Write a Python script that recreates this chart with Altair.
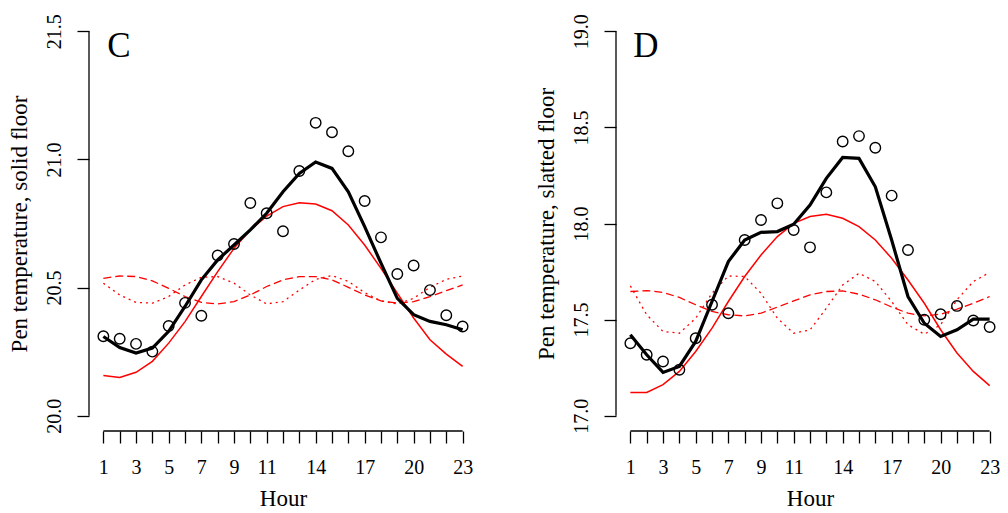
import altair as alt
import pandas as pd

hours = list(range(1, 24))
label_hours = [1, 3, 5, 7, 9, 11, 14, 17, 20, 23]

# Panel C: solid floor
c_obs = [20.31, 20.30, 20.28, 20.25, 20.35, 20.44, 20.39, 20.625, 20.67, 20.83, 20.79, 20.72,
         20.955, 21.143, 21.106, 21.032, 20.838, 20.696, 20.553, 20.586, 20.49, 20.392, 20.348]
c_fit = [20.309, 20.266, 20.244, 20.264, 20.329, 20.426, 20.53, 20.608, 20.666, 20.725, 20.79, 20.874,
         20.945, 20.99, 20.965, 20.874, 20.738, 20.595, 20.458, 20.394, 20.368, 20.355, 20.335]
c_trend = [20.157, 20.149, 20.169, 20.212, 20.283, 20.367, 20.465, 20.562, 20.653, 20.725, 20.779, 20.816,
           20.831, 20.826, 20.80, 20.744, 20.666, 20.575, 20.478, 20.381, 20.296, 20.240, 20.192]
c_h12 = [20.536, 20.545, 20.543, 20.526, 20.497, 20.465, 20.442, 20.436, 20.445, 20.471, 20.504, 20.53,
         20.543, 20.543, 20.53, 20.501, 20.471, 20.448, 20.439, 20.445, 20.465, 20.488, 20.51]
c_h8 = [20.517, 20.471, 20.442, 20.439, 20.465, 20.51, 20.54, 20.543, 20.517, 20.471, 20.436, 20.445,
        20.49, 20.532, 20.547, 20.524, 20.48, 20.448, 20.436, 20.458, 20.501, 20.532, 20.545]
c_ticks = [20.0, 20.5, 21.0, 21.5]

# Panel D: slatted floor
d_obs = [17.377, 17.317, 17.282, 17.239, 17.403, 17.577, 17.533, 17.914, 18.018, 18.105, 17.966, 17.876,
         18.162, 18.427, 18.455, 18.394, 18.145, 17.862, 17.499, 17.528, 17.571, 17.495, 17.461]
d_fit = [17.421, 17.317, 17.225, 17.256, 17.386, 17.594, 17.802, 17.914, 17.954, 17.958, 17.996, 18.096,
         18.235, 18.344, 18.339, 18.191, 17.914, 17.62, 17.481, 17.412, 17.447, 17.502, 17.502]
d_trend = [17.121, 17.121, 17.161, 17.230, 17.334, 17.455, 17.594, 17.724, 17.836, 17.932, 18.001, 18.036,
           18.048, 18.027, 17.984, 17.914, 17.819, 17.706, 17.585, 17.447, 17.326, 17.230, 17.156]
d_h12 = [17.646, 17.651, 17.641, 17.615, 17.577, 17.542, 17.525, 17.519, 17.533, 17.565, 17.597, 17.629,
         17.646, 17.649, 17.632, 17.603, 17.565, 17.533, 17.519, 17.528, 17.554, 17.585, 17.62]
d_h8 = [17.675, 17.525, 17.438, 17.429, 17.507, 17.637, 17.727, 17.724, 17.637, 17.507, 17.429, 17.446,
        17.559, 17.680, 17.741, 17.698, 17.594, 17.473, 17.424, 17.473, 17.603, 17.698, 17.745]
d_ticks = [17.0, 17.5, 18.0, 18.5, 19.0]

FONT = "Liberation Serif"
W, H = 388, 415
PADX = W * 0.04 / 1.08
PADY = H * 0.04 / 1.08


def panel(letter, ytitle, ticks, obs, fit, trend, h12, h8, width):
    df = pd.DataFrame({"hour": hours, "obs": obs, "fit": fit, "trend": trend, "h12": h12, "h8": h8})
    ax_df = pd.DataFrame({"x0": [hours[0]], "x1": [hours[-1]], "y0": [ticks[0]], "y1": [ticks[-1]]})
    xs = alt.Scale(domain=[hours[0], hours[-1]], range=[PADX, W - PADX], nice=False, zero=False)
    ys = alt.Scale(domain=[ticks[0], ticks[-1]], range=[H - PADY, PADY], nice=False, zero=False)
    label_test = "indexof([" + ",".join(str(h) for h in label_hours) + "], datum.value) >= 0 ? datum.label : ''"
    xaxis = alt.Axis(values=hours, labelExpr=label_test, title="Hour", grid=False, domain=False,
                     tickSize=12, tickWidth=1.3, tickColor="black",
                     labelFont=FONT, labelFontSize=20, labelColor="black", labelPadding=14,
                     labelOverlap=False, labelFlush=False,
                     titleFont=FONT, titleFontSize=23, titleFontWeight="normal", titleColor="black",
                     titlePadding=10)
    yaxis = alt.Axis(values=ticks, format=".1f", title=ytitle, grid=False, labelAngle=-90, domain=False,
                     tickSize=12, tickWidth=1.3, tickColor="black",
                     labelFont=FONT, labelFontSize=20, labelColor="black", labelPadding=13,
                     labelOverlap=False, labelFlush=False,
                     titleFont=FONT, titleFontSize=23, titleFontWeight="normal", titleColor="black",
                     titlePadding=13)
    base = alt.Chart(df)

    def x(field):
        return alt.X(f"{field}:Q", scale=xs, axis=xaxis)

    def y(field):
        return alt.Y(f"{field}:Q", scale=ys, axis=yaxis)

    yrule = alt.Chart(ax_df).mark_rule(color="black", strokeWidth=1.3).encode(
        x=alt.value(0), y=y("y0"), y2="y1:Q")
    xrule = alt.Chart(ax_df).mark_rule(color="black", strokeWidth=1.3).encode(
        x=x("x0"), x2="x1:Q", y=alt.value(H))
    dashed = base.mark_line(color="red", strokeWidth=1.3, strokeDash=[8, 4]).encode(x=x("hour"), y=y("h12"))
    dotted = base.mark_line(color="red", strokeWidth=1.3, strokeDash=[2, 4]).encode(x=x("hour"), y=y("h8"))
    trend_l = base.mark_line(color="red", strokeWidth=1.5).encode(x=x("hour"), y=y("trend"))
    fit_l = base.mark_line(color="black", strokeWidth=3.2).encode(x=x("hour"), y=y("fit"))
    pts = base.mark_point(shape="circle", filled=False, size=110, color="black", strokeWidth=1.4,
                          opacity=1).encode(x=x("hour"), y=y("obs"))
    lab = alt.Chart(pd.DataFrame({"t": [letter]})).mark_text(
        font=FONT, fontSize=35, align="center", baseline="middle", color="black"
    ).encode(x=alt.value(30), y=alt.value(30), text="t:N")
    return alt.layer(dashed, dotted, trend_l, fit_l, pts, yrule, xrule, lab).properties(width=width, height=H)


pc = panel("C", "Pen temperature, solid floor", c_ticks, c_obs, c_fit, c_trend, c_h12, c_h8, W)
pd_ = panel("D", "Pen temperature, slatted floor", d_ticks, d_obs, d_fit, d_trend, d_h12, d_h8, W)

chart = alt.hconcat(pc, pd_, spacing=58).properties(
    autosize=alt.AutoSizeParams(type="none"),
    padding={"left": 81, "top": 8, "right": 911, "bottom": 489},
    background="white",
).configure_view(stroke=None)

chart.save("out.html", embed_options={"renderer": "svg", "actions": False})
